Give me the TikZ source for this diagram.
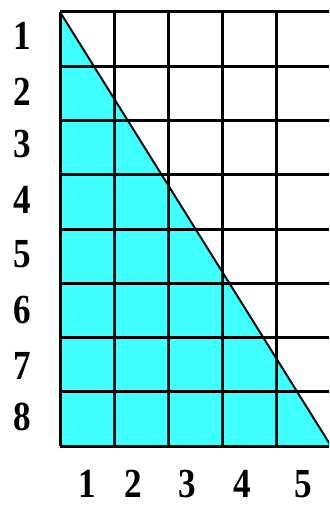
\documentclass[tikz,border=0pt]{standalone}
\usepackage{fontspec}
\setmainfont{Liberation Serif}
\definecolor{aqua}{RGB}{64,255,255}
\tikzset{
  num/.style={inner sep=0pt,font=\fontsize{31}{31}\selectfont\bfseries,xscale=0.85},
  gridline/.style={line width=2.25pt,draw=black}
}

\begin{document}
\begin{tikzpicture}[x=0.75pt,y=-0.75pt]
		\useasboundingbox (0,0) rectangle (329,506);
		\clip (0,0) rectangle (329,506);
		
		% shaded part under the diagonal
		\fill[aqua] (60,12) -- (331,446) -- (60,446) -- cycle;
		
		% grid, 5 columns and 8 rows
		\foreach \i in {0,...,8}
			\draw[gridline] (60,12+54.25*\i) -- (331,12+54.25*\i);
		\foreach \j in {0,...,5}
			\draw[gridline] (60+54.2*\j,12) -- (60+54.2*\j,446);
		
		\draw[line width=1.5pt] (60,12) -- (331,446);
		
		% row numbers
		\foreach \k/\y in {1/36,2/92,3/144,4/200,5/254,6/310,7/366,8/417}
			\node[num] (r\k) at (22,\y) {\k};
		
		% column numbers
		\foreach \k/\x in {1/87,2/133,3/187,4/242,5/303}
			\node[num] (c\k) at (\x,484) {\k};
	\end{tikzpicture}
\end{document}
